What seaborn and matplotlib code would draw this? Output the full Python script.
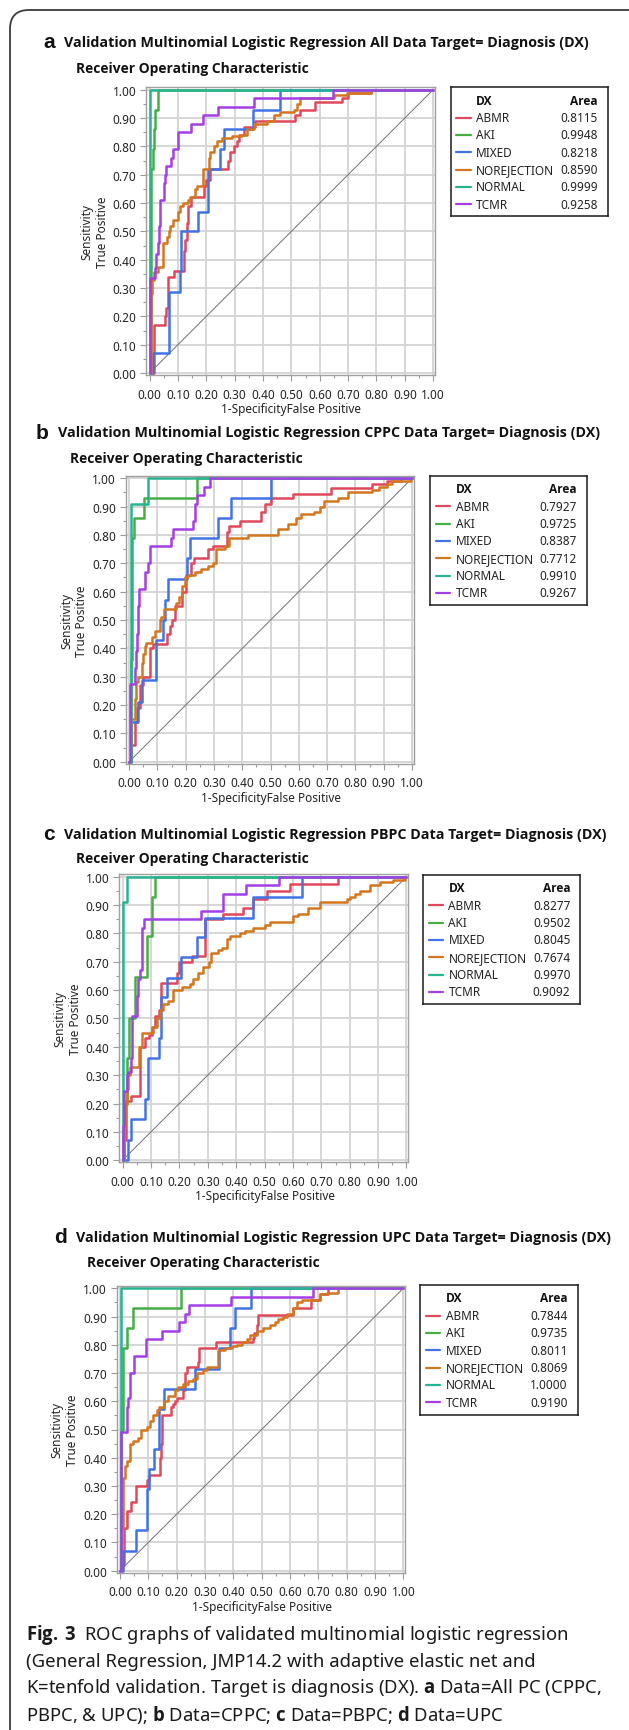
import numpy as np
import pandas as pd
import matplotlib
matplotlib.use("Agg")
import matplotlib.pyplot as plt
from matplotlib import font_manager as fm
from matplotlib.patches import FancyBboxPatch
import seaborn as sns

sns.set_theme(style="white")


def pick_bold(cands):
    for name in cands:
        if any(f.name == name and f.weight in (600, 700, 800, "semibold", "bold")
               for f in fm.fontManager.ttflist):
            return name
    return "DejaVu Sans"


BOLD = pick_bold(["Open Sans", "Lato", "Roboto", "Inter", "Liberation Sans"])
plt.rcParams["font.family"] = ["Noto Sans", "DejaVu Sans"]
plt.rcParams["mathtext.fontset"] = "custom"
plt.rcParams["mathtext.rm"] = "Noto Sans"
plt.rcParams["mathtext.bf"] = f"{BOLD}:bold"

# ---------------------------------------------------------------- data
# ROC staircases: at each FPR the curve rises to TPR
DX = ["ABMR", "AKI", "MIXED", "NOREJECTION", "NORMAL", "TCMR"]
COLORS = ["#E0495C", "#45AE45", "#4173E6", "#D4761E", "#27B591", "#A43FE6"]

AREA_A = ["0.8115", "0.9948", "0.8218", "0.8590", "0.9999", "0.9258"]
AREA_B = ["0.7927", "0.9725", "0.8387", "0.7712", "0.9910", "0.9267"]
AREA_C = ["0.8277", "0.9502", "0.8045", "0.7674", "0.9970", "0.9092"]
AREA_D = ["0.7844", "0.9735", "0.8011", "0.8069", "1.0000", "0.9190"]

# panel a - all data
A_ABMR_FPR = [0, 0.014, 0.055, 0.058, 0.065, 0.087, 0.120, 0.126, 0.132, 0.137, 0.146, 0.193, 0.200, 0.214,
              0.278, 0.284, 0.296, 0.308, 0.314, 0.334, 0.372, 0.514, 0.531, 0.584, 0.680, 0.700, 0.780, 1]
A_ABMR_TPR = [0, 0.17, 0.20, 0.23, 0.34, 0.36, 0.43, 0.47, 0.53, 0.59, 0.62, 0.66, 0.68, 0.72,
              0.75, 0.78, 0.80, 0.82, 0.84, 0.87, 0.89, 0.91, 0.93, 0.955, 0.97, 0.99, 1.0, 1.0]
A_AKI_FPR = [0, 0.004, 0.011, 0.014, 0.019, 0.029, 1]
A_AKI_TPR = [0, 0.72, 0.79, 0.86, 0.93, 1.0, 1.0]
A_MIXED_FPR = [0, 0.011, 0.070, 0.108, 0.112, 0.170, 0.206, 0.247, 0.262, 0.364, 0.461, 1]
A_MIXED_TPR = [0, 0.07, 0.285, 0.36, 0.50, 0.57, 0.72, 0.79, 0.86, 0.93, 1.0, 1.0]
A_NOREJ_FPR = [0, 0.005, 0.008, 0.014, 0.028, 0.047, 0.061, 0.067, 0.073, 0.081, 0.100, 0.108, 0.118,
               0.134, 0.141, 0.161, 0.167, 0.188, 0.208, 0.214, 0.226, 0.237, 0.255, 0.290, 0.325,
               0.343, 0.367, 0.414, 0.437, 0.461, 0.508, 0.519, 0.531, 0.649, 0.696, 0.780, 1]
A_NOREJ_TPR = [0, 0.28, 0.33, 0.355, 0.375, 0.46, 0.48, 0.50, 0.52, 0.54, 0.57, 0.59, 0.60,
               0.61, 0.62, 0.65, 0.66, 0.72, 0.76, 0.78, 0.80, 0.82, 0.83, 0.835, 0.84,
               0.86, 0.88, 0.89, 0.91, 0.92, 0.93, 0.95, 0.97, 0.98, 0.99, 1.0, 1.0]
A_NORMAL_FPR = [0, 0.003, 1]
A_NORMAL_TPR = [0, 1.0, 1.0]
A_TCMR_FPR = [0, 0.002, 0.020, 0.024, 0.028, 0.033, 0.036, 0.052, 0.054, 0.057, 0.075, 0.082, 0.100,
              0.147, 0.189, 0.241, 0.369, 0.645, 1]
A_TCMR_TPR = [0, 0.335, 0.37, 0.42, 0.46, 0.52, 0.61, 0.67, 0.70, 0.73, 0.76, 0.79, 0.85,
              0.88, 0.91, 0.94, 0.97, 1.0, 1.0]

# panel b - CPPC
B_ABMR_FPR = [0, 0.008, 0.020, 0.028, 0.038, 0.049, 0.073, 0.085, 0.134, 0.146, 0.152, 0.161, 0.187,
              0.202, 0.220, 0.229, 0.279, 0.296, 0.347, 0.352, 0.391, 0.467, 0.479, 0.502, 0.579,
              0.714, 0.86, 0.91, 0.96, 1]
B_ABMR_TPR = [0, 0.06, 0.14, 0.19, 0.27, 0.30, 0.40, 0.415, 0.45, 0.48, 0.50, 0.55, 0.60,
              0.66, 0.70, 0.72, 0.75, 0.76, 0.81, 0.83, 0.85, 0.88, 0.91, 0.93, 0.945,
              0.965, 0.98, 0.99, 1.0, 1.0]
B_AKI_FPR = [0, 0.005, 0.011, 0.018, 0.053, 0.238, 1]
B_AKI_TPR = [0, 0.36, 0.79, 0.86, 0.93, 1.0, 1.0]
B_MIXED_FPR = [0, 0.008, 0.032, 0.046, 0.096, 0.120, 0.128, 0.138, 0.205, 0.214, 0.314, 0.361, 0.500, 1]
B_MIXED_TPR = [0, 0.14, 0.21, 0.29, 0.43, 0.50, 0.57, 0.645, 0.72, 0.79, 0.86, 0.93, 1.0, 1.0]
B_NOREJ_FPR = [0, 0.005, 0.020, 0.024, 0.032, 0.044, 0.049, 0.055, 0.061, 0.079, 0.091, 0.108, 0.114,
               0.122, 0.167, 0.176, 0.185, 0.196, 0.208, 0.232, 0.255, 0.279, 0.296, 0.308, 0.340,
               0.352, 0.420, 0.526, 0.561, 0.591, 0.608, 0.655, 0.673, 0.690, 0.738, 0.773, 0.860,
               0.885, 0.910, 0.930, 0.995, 1]
B_NOREJ_TPR = [0, 0.15, 0.22, 0.28, 0.30, 0.35, 0.38, 0.41, 0.42, 0.44, 0.46, 0.50, 0.51,
               0.54, 0.56, 0.58, 0.62, 0.65, 0.66, 0.67, 0.68, 0.69, 0.70, 0.75, 0.76,
               0.79, 0.80, 0.82, 0.84, 0.86, 0.875, 0.88, 0.90, 0.92, 0.93, 0.95, 0.96,
               0.97, 0.98, 0.99, 1.0, 1.0]
B_NORMAL_FPR = [0, 0.006, 0.067, 1]
B_NORMAL_TPR = [0, 0.91, 1.0, 1.0]
B_TCMR_FPR = [0, 0.003, 0.020, 0.023, 0.026, 0.030, 0.034, 0.056, 0.068, 0.074, 0.149, 0.155, 0.226,
              0.234, 0.240, 0.265, 0.285, 1]
B_TCMR_TPR = [0, 0.274, 0.33, 0.39, 0.45, 0.55, 0.61, 0.67, 0.70, 0.76, 0.79, 0.82, 0.85,
              0.91, 0.94, 0.97, 1.0, 1.0]

# panel c - PBPC
C_ABMR_FPR = [0, 0.005, 0.012, 0.028, 0.061, 0.079, 0.094, 0.102, 0.114, 0.129, 0.137, 0.190, 0.198,
              0.245, 0.292, 0.354, 0.425, 0.460, 0.507, 0.589, 0.759, 1]
C_ABMR_TPR = [0, 0.07, 0.21, 0.225, 0.40, 0.43, 0.44, 0.47, 0.51, 0.53, 0.625, 0.66, 0.70,
              0.72, 0.85, 0.87, 0.89, 0.92, 0.95, 0.975, 1.0, 1.0]
C_AKI_FPR = [0, 0.004, 0.016, 0.023, 0.043, 0.085, 0.102, 0.114, 1]
C_AKI_TPR = [0, 0.20, 0.36, 0.50, 0.645, 0.79, 0.93, 1.0, 1.0]
C_MIXED_FPR = [0, 0.020, 0.029, 0.079, 0.088, 0.129, 0.137, 0.155, 0.204, 0.263, 0.290, 0.460, 0.633, 1]
C_MIXED_TPR = [0, 0.072, 0.145, 0.215, 0.36, 0.43, 0.574, 0.642, 0.715, 0.786, 0.856, 0.927, 1.0, 1.0]
C_NOREJ_FPR = [0, 0.005, 0.008, 0.014, 0.020, 0.026, 0.059, 0.070, 0.108, 0.120, 0.131, 0.143, 0.161,
               0.176, 0.208, 0.237, 0.249, 0.266, 0.284, 0.305, 0.313, 0.337, 0.349, 0.366, 0.378,
               0.413, 0.431, 0.460, 0.501, 0.519, 0.601, 0.619, 0.654, 0.697, 0.791, 0.800, 0.818,
               0.836, 0.871, 0.906, 0.953, 0.994, 1]
C_NOREJ_TPR = [0, 0.12, 0.20, 0.25, 0.30, 0.33, 0.40, 0.45, 0.47, 0.50, 0.53, 0.55, 0.56,
               0.60, 0.61, 0.62, 0.64, 0.66, 0.68, 0.70, 0.73, 0.74, 0.75, 0.78, 0.79,
               0.80, 0.81, 0.82, 0.83, 0.84, 0.86, 0.87, 0.89, 0.91, 0.92, 0.93, 0.94,
               0.95, 0.97, 0.98, 0.99, 1.0, 1.0]
C_NORMAL_FPR = [0, 0.002, 0.016, 1]
C_NORMAL_TPR = [0, 0.91, 1.0, 1.0]
C_TCMR_FPR = [0, 0.002, 0.005, 0.016, 0.020, 0.028, 0.033, 0.049, 0.056, 0.061, 0.067, 0.070, 0.076,
              0.275, 0.354, 0.434, 0.552, 1]
C_TCMR_TPR = [0, 0.12, 0.245, 0.30, 0.31, 0.36, 0.51, 0.58, 0.64, 0.67, 0.79, 0.82, 0.85,
              0.88, 0.94, 0.97, 1.0, 1.0]

# panel d - UPC
D_ABMR_FPR = [0, 0.005, 0.014, 0.024, 0.038, 0.056, 0.096, 0.104, 0.141, 0.145, 0.147, 0.179, 0.188,
              0.194, 0.200, 0.224, 0.229, 0.238, 0.276, 0.279, 0.339, 0.468, 0.473, 0.482, 0.488,
              0.611, 0.673, 0.706, 0.735, 1]
D_ABMR_TPR = [0, 0.02, 0.15, 0.21, 0.245, 0.30, 0.32, 0.34, 0.40, 0.45, 0.55, 0.58, 0.59,
              0.60, 0.61, 0.64, 0.70, 0.72, 0.74, 0.79, 0.81, 0.825, 0.84, 0.87, 0.905,
              0.93, 0.96, 0.98, 1.0, 1.0]
D_AKI_FPR = [0, 0.004, 0.012, 0.026, 0.045, 0.216, 1]
D_AKI_TPR = [0, 0.50, 0.79, 0.86, 0.93, 1.0, 1.0]
D_MIXED_FPR = [0, 0.009, 0.056, 0.094, 0.104, 0.121, 0.139, 0.155, 0.265, 0.349, 0.388, 0.406, 0.461, 1]
D_MIXED_TPR = [0, 0.071, 0.145, 0.289, 0.36, 0.43, 0.574, 0.645, 0.716, 0.788, 0.858, 0.929, 1.0, 1.0]
D_NOREJ_FPR = [0, 0.004, 0.009, 0.018, 0.024, 0.035, 0.047, 0.065, 0.073, 0.094, 0.106, 0.118, 0.129,
               0.139, 0.155, 0.171, 0.194, 0.206, 0.224, 0.241, 0.256, 0.273, 0.294, 0.306, 0.347,
               0.371, 0.394, 0.412, 0.429, 0.447, 0.459, 0.482, 0.506, 0.529, 0.547, 0.559, 0.576,
               0.588, 0.609, 0.624, 0.641, 0.706, 0.729, 0.771, 1]
D_NOREJ_TPR = [0, 0.15, 0.33, 0.37, 0.39, 0.45, 0.46, 0.47, 0.50, 0.51, 0.53, 0.55, 0.57,
               0.58, 0.60, 0.62, 0.64, 0.65, 0.66, 0.67, 0.68, 0.70, 0.71, 0.72, 0.78,
               0.79, 0.795, 0.80, 0.81, 0.82, 0.835, 0.85, 0.86, 0.87, 0.88, 0.89, 0.90,
               0.91, 0.93, 0.95, 0.96, 0.98, 0.985, 1.0, 1.0]
D_NORMAL_FPR = [0, 0.002, 1]
D_NORMAL_TPR = [0, 1.0, 1.0]
D_TCMR_FPR = [0, 0.003, 0.025, 0.029, 0.034, 0.051, 0.091, 0.150, 0.208, 0.229, 0.243, 0.391, 0.680, 1]
D_TCMR_TPR = [0, 0.49, 0.58, 0.61, 0.70, 0.76, 0.82, 0.85, 0.88, 0.91, 0.94, 0.97, 1.0, 1.0]

DIAG = [0, 1]
TICKS = [i / 10 for i in range(11)]

CURVES = {
    "a": [(A_ABMR_FPR, A_ABMR_TPR), (A_AKI_FPR, A_AKI_TPR), (A_MIXED_FPR, A_MIXED_TPR),
          (A_NOREJ_FPR, A_NOREJ_TPR), (A_NORMAL_FPR, A_NORMAL_TPR), (A_TCMR_FPR, A_TCMR_TPR)],
    "b": [(B_ABMR_FPR, B_ABMR_TPR), (B_AKI_FPR, B_AKI_TPR), (B_MIXED_FPR, B_MIXED_TPR),
          (B_NOREJ_FPR, B_NOREJ_TPR), (B_NORMAL_FPR, B_NORMAL_TPR), (B_TCMR_FPR, B_TCMR_TPR)],
    "c": [(C_ABMR_FPR, C_ABMR_TPR), (C_AKI_FPR, C_AKI_TPR), (C_MIXED_FPR, C_MIXED_TPR),
          (C_NOREJ_FPR, C_NOREJ_TPR), (C_NORMAL_FPR, C_NORMAL_TPR), (C_TCMR_FPR, C_TCMR_TPR)],
    "d": [(D_ABMR_FPR, D_ABMR_TPR), (D_AKI_FPR, D_AKI_TPR), (D_MIXED_FPR, D_MIXED_TPR),
          (D_NOREJ_FPR, D_NOREJ_TPR), (D_NORMAL_FPR, D_NORMAL_TPR), (D_TCMR_FPR, D_TCMR_TPR)],
}
AREAS = {"a": AREA_A, "b": AREA_B, "c": AREA_C, "d": AREA_D}
SOURCES = {"a": "All", "b": "CPPC", "c": "PBPC", "d": "UPC"}

rows = []
for panel, pairs in CURVES.items():
    for dx, (fpr, tpr) in zip(DX, pairs):
        for x, y in zip(fpr, tpr):
            rows.append((panel, dx, x, y))
roc = pd.DataFrame(rows, columns=["panel", "dx", "fpr", "tpr"])

# ---------------------------------------------------------------- layout (pixels)
W, H = 629, 1731
XLIM = (-0.012, 1.007)
YLIM = (-0.008, 1.009)
# x of 0.00, x of 1.00, y of 1.00, y of 0.00
AXES_PX = {"a": (149.6, 433.2, 90.7, 374.0), "b": (129.2, 412.0, 479.3, 762.7),
           "c": (122.6, 406.5, 877.7, 1161.2), "d": (120.0, 403.3, 1289.3, 1571.7)}
# left, right, top, bottom
LEGEND_PX = {"a": (450.5, 607.7, 88.0, 217.3), "b": (430.0, 586.8, 476.7, 606.0),
             "c": (423.0, 580.4, 875.7, 1005.0), "d": (420.4, 577.6, 1286.0, 1415.7)}
# letter x, title x, title right, title y, subtitle x, subtitle y
TITLE_PX = {"a": (49, 64, 588, 42.5, 76, 68.5), "b": (42, 58, 600, 433.5, 69.5, 459.5),
            "c": (49, 64, 607, 835, 76, 859.5), "d": (60, 75.5, 609.5, 1238, 87, 1263.5)}
SUB_W = 232
CAP_X, CAP_Y, CAP_DY = 26, 1635, 26.6
CAP_RIGHT = [557, 521.5, 605, 523.5]

TXT = "#222222"


def fx(px):
    return px / W


def fy(py):
    return 1 - py / H


fig = plt.figure(figsize=(W / 100, H / 100), dpi=100)
renderer = fig.canvas.get_renderer()


def fit_group(texts, widths):
    # one common font size so the group spans the widths seen in the figure
    ratios = [w / t.get_window_extent(renderer).width for t, w in zip(texts, widths)]
    k = float(np.mean(ratios))
    for t in texts:
        t.set_fontsize(t.get_fontsize() * k)


# outer rounded frame, only left and top edges visible
frame = FancyBboxPatch((0.10, -0.6), 7.0, 17.31 - 0.11 + 0.6,
                       boxstyle="round,pad=0,rounding_size=0.19",
                       transform=fig.dpi_scale_trans, fill=False,
                       edgecolor="#3c3c3c", linewidth=1.3)
fig.add_artist(frame)

titles, title_w, subs = [], [], []
for panel in ["a", "b", "c", "d"]:
    x0p, x1p, y1p, y0p = AXES_PX[panel]
    sx, sy = x1p - x0p, y0p - y1p
    left = x0p + XLIM[0] * sx
    right = x0p + XLIM[1] * sx
    bottom = y0p - YLIM[0] * sy
    top = y0p - YLIM[1] * sy
    ax = fig.add_axes([fx(left), fy(bottom), (right - left) / W, (bottom - top) / H])

    ax.grid(True, which="major", color="#d3d3d3", linewidth=1.3, zorder=0)
    ax.set_axisbelow(True)
    sns.lineplot(x=DIAG, y=DIAG, color="#707070", linewidth=0.7, ax=ax)
    sns.lineplot(data=roc[roc["panel"] == panel], x="fpr", y="tpr", hue="dx",
                 hue_order=DX, palette=COLORS, estimator=None, sort=False,
                 drawstyle="steps-post", linewidth=1.8, legend=False, ax=ax)

    ax.set_xlim(*XLIM)
    ax.set_ylim(*YLIM)
    ax.set_xticks(TICKS)
    ax.set_yticks(TICKS)
    ax.set_xticks([t + 0.05 for t in TICKS[:-1]], minor=True)
    ax.set_yticks([t + 0.05 for t in TICKS[:-1]], minor=True)
    ax.set_xticklabels([f"{t:.2f}" for t in TICKS])
    ax.set_yticklabels([f"{t:.2f}" for t in TICKS])
    ax.tick_params(which="both", direction="out", color="#9a9a9a", width=0.8,
                   labelsize=8.5, labelcolor=TXT, bottom=True, left=True)
    ax.tick_params(which="major", length=4.5)
    ax.tick_params(which="minor", length=2.5)
    ax.tick_params(axis="x", pad=4.5)
    ax.tick_params(axis="y", pad=2.5)
    ax.set_xlabel("")
    ax.set_ylabel("")
    for sp in ax.spines.values():
        sp.set_color("#a0a0a0")
        sp.set_linewidth(1.0)

    # axis titles
    fig.text(fx((x0p + x1p) / 2), fy(y0p + 35.5), "1-SpecificityFalse Positive",
             ha="center", va="center", fontsize=8.5, color=TXT)
    fig.text(fx(x0p - 55), fy((y0p + y1p) / 2), "Sensitivity\nTrue Positive",
             ha="center", va="center", rotation=90, fontsize=8.5, color=TXT,
             linespacing=1.25)

    # titles
    lx, tx, tr, ty, stx, sty = TITLE_PX[panel]
    fig.text(fx(lx), fy(ty), panel, ha="center", va="center", fontsize=15,
             fontweight="bold", family=["Liberation Sans", "DejaVu Sans"], color="#111111")
    titles.append(fig.text(fx(tx), fy(ty),
                           f"Validation Multinomial Logistic Regression {SOURCES[panel]} Data Target= Diagnosis (DX)",
                           ha="left", va="center", fontsize=10, fontweight="bold",
                           family=BOLD, color="#111111"))
    title_w.append(tr - tx)
    subs.append(fig.text(fx(stx), fy(sty), "Receiver Operating Characteristic",
                         ha="left", va="center", fontsize=10, fontweight="bold",
                         family=BOLD, color="#111111"))

    # legend table
    l, r, t, b = LEGEND_PX[panel]
    lax = fig.add_axes([fx(l), fy(b), (r - l) / W, (b - t) / H])
    lax.set_xlim(0, r - l)
    lax.set_ylim(b - t, 0)
    lax.set_xticks([])
    lax.set_yticks([])
    lax.set_facecolor("white")
    for sp in lax.spines.values():
        sp.set_color("#1a1a1a")
        sp.set_linewidth(1.1)
    wl = r - l
    lax.text(25.5, 13, "DX", ha="left", va="center", fontsize=8.6, fontweight="bold",
             family=BOLD, color="#111111")
    lax.text(wl - 10, 13, "Area", ha="right", va="center", fontsize=8.6, fontweight="bold",
             family=BOLD, color="#111111")
    for i, (dx, col, area) in enumerate(zip(DX, COLORS, AREAS[panel])):
        yy = 30.6 + i * 17.3
        lax.plot([5.5, 20], [yy, yy], color=col, linewidth=1.6)
        lax.text(25.5, yy, dx, ha="left", va="center", fontsize=8.5, color=TXT)
        lax.text(wl - 10, yy, area, ha="right", va="center", fontsize=8.5, color=TXT)

fit_group(titles, title_w)
fit_group(subs, [SUB_W] * len(subs))

# caption
CAPTION = [
    r"$\mathbf{Fig.\,3}$  ROC graphs of validated multinomial logistic regression",
    "(General Regression, JMP14.2 with adaptive elastic net and",
    r"K=tenfold validation. Target is diagnosis (DX). $\mathbf{a}$ Data=All PC (CPPC,",
    r"PBPC, & UPC); $\mathbf{b}$ Data=CPPC; $\mathbf{c}$ Data=PBPC; $\mathbf{d}$ Data=UPC",
]
caps = [fig.text(fx(CAP_X), fy(CAP_Y + i * CAP_DY), line, ha="left", va="center",
                 fontsize=11.6, color="#1a1a1a") for i, line in enumerate(CAPTION)]
fit_group(caps, [rgt - CAP_X for rgt in CAP_RIGHT])

fig.savefig("out.png", dpi=100)
